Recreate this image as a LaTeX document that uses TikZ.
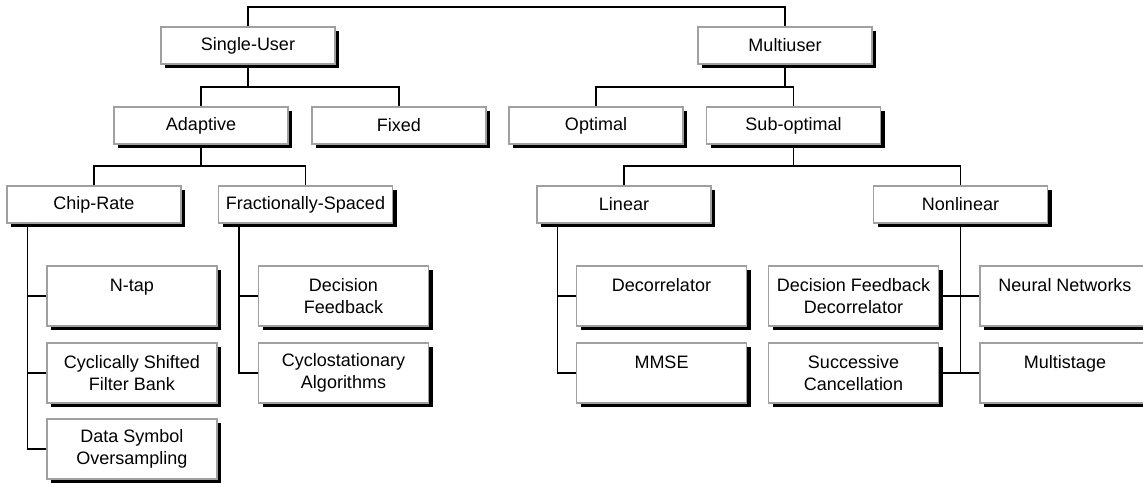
\documentclass[tikz,border=0pt]{standalone}
\usepackage{fontspec}
\setmainfont{Liberation Sans}
\usetikzlibrary{shadows}
\definecolor{boxgray}{HTML}{A0A0A0}
\begin{document}
\begin{tikzpicture}[x=1pt,y=-1pt,
  box/.style={draw=boxgray, line width=1.3pt, fill=white, inner sep=0pt,
    drop shadow={shadow xshift=4pt, shadow yshift=-4pt, fill=black, opacity=1},
    font=\fontsize{18}{22}\selectfont, align=center},
  head/.style={box, minimum width=174pt, minimum height=37pt},
  leaf/.style={box, minimum width=170pt, minimum height=60pt},
  link/.style={draw=black, line width=1.5pt}]
\useasboundingbox (0,0) rectangle (1143,482);

% bus levels
\coordinate (bus0) at (0,7);
\coordinate (bus1) at (0,87);
\coordinate (bus2) at (0,166);

% first level
\node[head] (su) at (248,45.5) {Single-User};
\node[head] (mu) at (785,45.5) {Multiuser};

% second level
\node[head] (ada) at (201,125.5) {Adaptive};
\node[head] (fix) at (399,125.5) {Fixed};
\node[head] (opt) at (596,125.5) {Optimal};
\node[head] (sub) at (793.5,125.5) {Sub-optimal};

% third level
\node[head] (cr)  at (94,204.5)    {Chip-Rate};
\node[head] (fs)  at (305.5,204.5) {Fractionally-Spaced};
\node[head] (lin) at (624,204.5)   {Linear};
\node[head] (nl)  at (960.5,204.5) {Nonlinear};

% leaves
\node[leaf] (ntap) at (132,296)   {N-tap\\\mbox{}};
\node[leaf] (csfb) at (132,373)   {Cyclically Shifted\\Filter Bank};
\node[leaf] (dso)  at (132,449)   {Data Symbol\\Oversampling};
\node[leaf] (df)   at (343.5,296) {Decision\\Feedback};
\node[leaf] (ca)   at (343.5,373) {Cyclostationary\\Algorithms};
\node[leaf] (dec)  at (661.5,296) {Decorrelator\\\mbox{}};
\node[leaf] (mmse) at (661.5,373) {MMSE\\\mbox{}};
\node[leaf] (dfd)  at (853.5,296) {Decision Feedback\\Decorrelator};
\node[leaf] (sc)   at (853.5,373) {Successive\\Cancellation};
\node[leaf] (nn)   at (1065,296)  {Neural Networks\\\mbox{}};
\node[leaf] (ms)   at (1065,373)  {Multistage\\\mbox{}};

% tree connectors
\draw[link] (su.north) -- (su.north |- bus0) -| (mu.north);
\draw[link] (su.south) -- (su.south |- bus1) -| (ada.north);
\draw[link] (su.south |- bus1) -| (fix.north);
\draw[link] (mu.south) -- (mu.south |- bus1) -| (sub.north);
\draw[link] (mu.south |- bus1) -| (opt.north);
\draw[link] (ada.south) -- (ada.south |- bus2) -| (cr.north);
\draw[link] (ada.south |- bus2) -| (fs.north);
\draw[link] (sub.south) -- (sub.south |- bus2) -| (lin.north);
\draw[link] (sub.south |- bus2) -| (nl.north);

% trunks to the leaves
\coordinate (crt) at ([xshift=21pt]cr.south west);
\coordinate (fst) at ([xshift=21pt]fs.south west);
\coordinate (lint) at ([xshift=21pt]lin.south west);
\draw[link] (crt) |- (dso.west);
\draw[link] (ntap.west) -- (ntap.west -| crt);
\draw[link] (csfb.west) -- (csfb.west -| crt);
\draw[link] (fst) |- (ca.west);
\draw[link] (df.west) -- (df.west -| fst);
\draw[link] (lint) |- (mmse.west);
\draw[link] (dec.west) -- (dec.west -| lint);
\draw[link] (nl.south) -- (nl.south |- sc.east);
\draw[link] (dfd.east) -- (nn.west);
\draw[link] (sc.east) -- (ms.west);
\end{tikzpicture}
\end{document}
